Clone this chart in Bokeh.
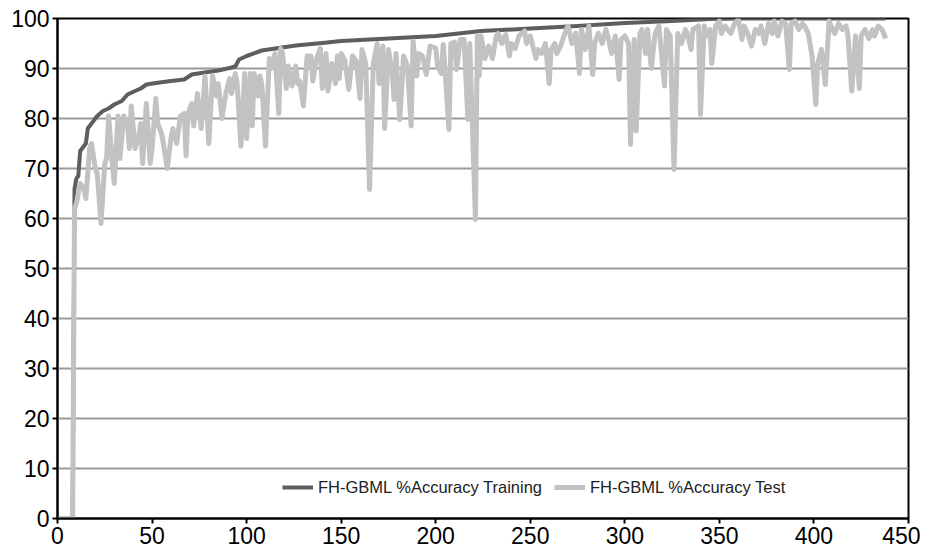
from bokeh.plotting import figure
from bokeh.models import Range1d, Legend, LegendItem, FixedTicker
from bokeh.embed import file_html
from bokeh.resources import INLINE

series_labels = ["FH-GBML %Accuracy Training", "FH-GBML %Accuracy Test"]
x_ticks = [0, 50, 100, 150, 200, 250, 300, 350, 400, 450]
y_ticks = [0, 10, 20, 30, 40, 50, 60, 70, 80, 90, 100]

train_x = [0, 8, 9, 10, 11, 12, 13, 15, 16, 18, 20, 21, 24, 27, 30, 34, 37, 41, 44, 47,
           52, 60, 67, 71, 76, 85, 91, 94, 96, 100, 108, 117, 126, 140, 150, 175, 200,
           224, 250, 275, 300, 325, 345, 360, 438]
train_y = [0, 0, 66, 68, 68.5, 73.5, 74, 75, 78, 79, 80, 80.5, 81.5, 82, 82.8, 83.5, 84.8,
           85.5, 86, 86.8, 87.1, 87.5, 87.8, 88.8, 89.1, 89.6, 90.1, 90.4, 91.8, 92.5, 93.6,
           94.1, 94.6, 95.1, 95.5, 96, 96.5, 97.5, 98, 98.5, 99.1, 99.5, 99.9, 100, 100]

test_x = [0, 8, 9, 10, 12, 14, 15, 17, 18, 20, 21, 23, 25, 26, 27, 29, 30, 32, 33, 35,
          37, 38, 39, 41, 43, 44, 45, 47, 49, 50, 52, 53, 55, 56, 58, 60, 61, 63, 65, 67,
          68, 69, 71, 72, 74, 76,
          78, 80, 82, 84, 85, 87, 89, 91, 92, 94, 95, 97, 99, 100, 102, 103, 104, 106, 107, 108,
          110, 112, 113, 115, 117, 118, 119, 121, 122, 124, 126, 127, 128, 130, 132, 134, 135, 137,
          139, 140, 142, 143, 145, 147,
          148, 149, 150, 152, 154, 156, 158, 160, 161, 163, 165, 167, 169, 170, 172, 173, 175, 177,
          178, 179, 181, 183, 185, 187, 188, 190, 191, 193, 195, 197, 200, 201, 203, 204, 207, 208,
          210, 211, 213, 215, 217, 218, 221, 222,
          223, 224, 226, 228, 230, 232, 233, 235, 237, 239, 240, 242, 244, 247, 248, 250, 253, 254,
          256, 258, 260, 261, 263, 264, 266, 269, 270, 272, 274, 276, 277, 279, 281, 283, 284, 286,
          288, 290, 291, 293, 295, 297,
          298, 300, 302, 303, 305, 306, 308, 309, 311, 312, 314, 316, 318, 319, 321, 322, 324, 326,
          328, 330, 332, 333, 335, 336, 339, 340, 342, 343, 345, 346, 348, 350, 351, 353, 356, 358,
          360, 362, 363, 365, 367, 369,
          371, 372, 374, 376, 378, 379, 381, 383, 385, 387, 388, 390, 392, 394, 395, 397, 399, 401,
          402, 404, 406, 408, 409, 411, 413, 415, 417, 418, 420, 422, 424, 425, 427, 429, 431, 432,
          434, 436, 438]
test_y = [0, 0, 62, 63, 67, 66, 64, 74, 75, 70, 69, 59, 71, 72, 80.5, 71, 67, 80.5, 72, 80.5,
          79, 74, 82.5, 74, 76.5, 79, 71, 83, 71, 74, 84, 79, 77, 75, 70, 76, 78, 75, 80.5, 81,
          72.5, 81, 83, 78.5, 85, 78,
          88.5, 75, 88.5, 84.5, 87, 80, 85, 88, 85, 89, 87, 74.5, 89, 76, 89, 78.5, 89, 84.5, 88.5, 87,
          74.5, 92, 90, 93, 81, 94, 93, 86, 90.5, 86.5, 90.5, 87, 87.5, 82.5, 92.5, 92.5, 87.5, 92,
          94, 86, 93, 85.5, 91, 87,
          92.5, 88, 93, 91.5, 85.8, 92.5, 91.5, 84, 93.8, 91, 65.8, 91, 95, 87, 94.5, 78, 93.8, 89,
          83.8, 93, 79.8, 92.5, 90.5, 78.5, 95.5, 88.5, 93, 92.5, 88.8, 94.5, 94.1, 90.5, 89, 94.8, 77.8, 95,
          95.3, 89.8, 95.8, 95.8, 79.8, 95, 59.8, 96.5,
          88.5, 96.5, 92, 94.5, 92, 96.5, 97, 95, 96.8, 92.5, 95, 94, 96.5, 97.5, 95, 96.5, 92, 93.8,
          93, 95, 87, 93.8, 95, 93, 94.5, 97.8, 98.5, 95, 97.1, 89, 97.8, 93.8, 98.5, 88.8, 95, 97.1,
          95, 97.8, 96.5, 93, 96.5, 87.8,
          95.8, 96.5, 95, 74.8, 95.8, 77.5, 97, 97.8, 93, 97.8, 90, 97, 98.5, 94.5, 86.5, 97.8, 96.5, 69.8,
          97, 95, 97.8, 97, 93.8, 97.8, 98.5, 80.8, 98.5, 96.5, 97.8, 91, 98.5, 99.5, 97, 98.5, 97, 99,
          99.8, 95.8, 98.5, 97, 94.5, 97.8,
          97, 98.5, 95, 99, 97, 99.5, 96.5, 99.5, 99, 89.8, 99, 99.5, 97.8, 99, 98.5, 97, 92.5, 82.8,
          91, 93.8, 86.8, 99.5, 98.5, 97, 99, 97.8, 98.5, 96.5, 85.5, 96.5, 86, 96.5, 97.8, 96, 97.8, 96.5,
          98.5, 97.8, 96]

FONT = "Liberation Sans"

p = figure(width=920, height=554, output_backend="svg", toolbar_location=None,
           x_range=Range1d(0, 450), y_range=Range1d(0, 100),
           min_border_left=57, min_border_right=12, min_border_top=18, min_border_bottom=36)

p.background_fill_color = "white"
p.border_fill_color = "white"
p.outline_line_color = "black"
p.outline_line_width = 2

p.xgrid.visible = False
p.ygrid.grid_line_color = "#9a9a9a"
p.ygrid.grid_line_width = 2
p.ygrid.ticker = FixedTicker(ticks=y_ticks)

for ax in (p.xaxis[0], p.yaxis[0]):
    ax.axis_line_color = "black"
    ax.axis_line_width = 2
    ax.major_tick_line_color = "black"
    ax.major_tick_line_width = 2
    ax.major_tick_in = 0
    ax.major_tick_out = 5
    ax.minor_tick_line_color = None
    ax.major_label_text_font = FONT
    ax.major_label_text_font_size = "23px"
    ax.major_label_text_color = "black"
    ax.major_label_standoff = 3

p.xaxis.ticker = FixedTicker(ticks=x_ticks)
p.yaxis.ticker = FixedTicker(ticks=y_ticks)

r_train = p.line(train_x, train_y, line_color="#5e5e5e", line_width=4, line_join="round")
r_test = p.line(test_x, test_y, line_color="#c2c2c2", line_width=5, line_join="round")

legend = Legend(items=[LegendItem(label=series_labels[0], renderers=[r_train]),
                       LegendItem(label=series_labels[1], renderers=[r_test])],
                location=(225, 21), orientation="horizontal", padding=0, margin=0,
                spacing=12, glyph_width=31, glyph_height=20, label_standoff=5,
                background_fill_alpha=0, border_line_alpha=0,
                label_text_font=FONT, label_text_font_size="16.5px", label_text_color="#222222")
p.add_layout(legend)

open("out.html", "w").write(file_html(p, INLINE))
